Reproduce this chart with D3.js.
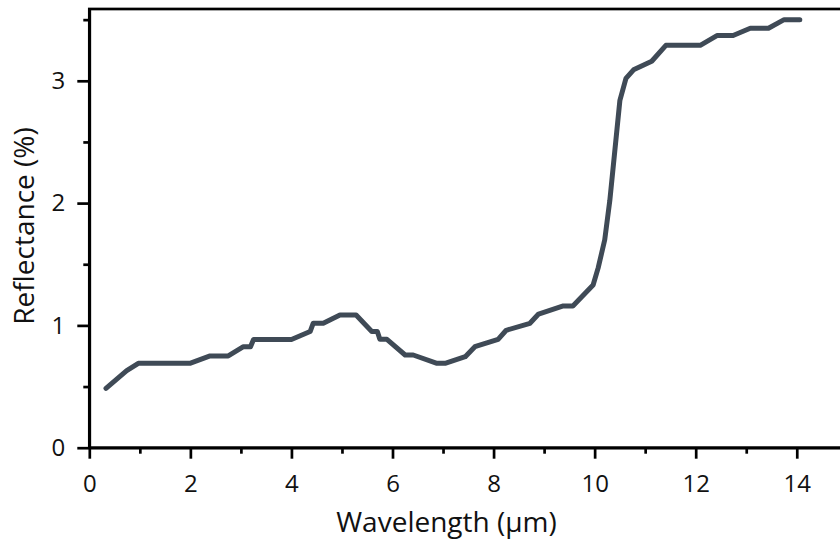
<!DOCTYPE html>
<html>
<head>
<meta charset="utf-8">
<script src="https://cdn.jsdelivr.net/npm/d3@7"></script>
<style>
  html, body { margin: 0; padding: 0; background: #fff; }
  svg { display: block; }
  text { font-family: "Open Sans", "Noto Sans", sans-serif; fill: #111; }
</style>
</head>
<body>
<svg id="chart" width="840" height="545"></svg>
<script>
// Spectrum: wavelength (µm) and reflectance (%)
const wavelength = [0.33, 0.74, 0.97, 1.99, 2.39, 2.75, 3.05, 3.19, 3.25, 4.0,
  4.37, 4.43, 4.63, 4.96, 5.28, 5.59, 5.70, 5.75, 5.89, 6.25,
  6.41, 6.88, 7.04, 7.44, 7.63, 8.09, 8.25, 8.72, 8.89, 9.38,
  9.57, 9.97, 10.07, 10.2, 10.3, 10.5, 10.62, 10.77, 11.13, 11.41,
  12.09, 12.42, 12.74, 13.08, 13.44, 13.75, 14.06];
const reflectance = [0.485, 0.63, 0.69, 0.69, 0.75, 0.75, 0.826, 0.826, 0.885, 0.885,
  0.95, 1.017, 1.017, 1.085, 1.085, 0.95, 0.95, 0.886, 0.886, 0.758,
  0.758, 0.69, 0.69, 0.744, 0.826, 0.886, 0.96, 1.017, 1.093, 1.159,
  1.159, 1.33, 1.47, 1.70, 2.02, 2.84, 3.02, 3.09, 3.16, 3.29,
  3.29, 3.37, 3.37, 3.43, 3.43, 3.50, 3.50];

const xMajorTicks = [0, 2, 4, 6, 8, 10, 12, 14];
const xMinorTicks = [1, 3, 5, 7, 9, 11, 13, 15];
const yMajorTicks = [0, 1, 2, 3];
const yMinorTicks = [0.5, 1.5, 2.5, 3.5];
const xTitle = "Wavelength (µm)";
const yTitle = "Reflectance (%)";

const svg = d3.select("#chart");
const plotLeft = 89.3, plotRight = 847.3, plotTop = 9, plotBottom = 447.7;

const x = d3.scaleLinear().domain([0, 15]).range([plotLeft, plotRight]);
const y = d3.scaleLinear().domain([0, 3.587]).range([plotBottom, plotTop]);

const axisW = 2.7;

// Frame around the plot area
svg.append("rect")
  .attr("x", plotLeft).attr("y", plotTop)
  .attr("width", plotRight - plotLeft).attr("height", plotBottom - plotTop)
  .attr("fill", "none").attr("stroke", "#000").attr("stroke-width", axisW);

function styleAxis(g) {
  g.selectAll("path.domain").attr("stroke", "#000").attr("stroke-width", axisW);
  g.selectAll(".tick line").attr("stroke", "#000").attr("stroke-width", axisW);
  g.selectAll(".tick text").style("font-family", '"Open Sans", "Noto Sans", sans-serif')
    .style("font-size", "24px").attr("fill", "#111");
}

// x axis
svg.append("g").attr("transform", `translate(0,${plotBottom})`)
  .call(d3.axisBottom(x).tickValues(xMinorTicks).tickSize(6).tickSizeOuter(0).tickFormat(""))
  .call(styleAxis)
  .call(g => g.select("path.domain").remove());
svg.append("g").attr("transform", `translate(0,${plotBottom})`)
  .call(d3.axisBottom(x).tickValues(xMajorTicks).tickSize(11).tickPadding(16).tickSizeOuter(0).tickFormat(d3.format("d")))
  .call(styleAxis);

// y axis
svg.append("g").attr("transform", `translate(${plotLeft},0)`)
  .call(d3.axisLeft(y).tickValues(yMinorTicks).tickSize(6).tickSizeOuter(0).tickFormat(""))
  .call(styleAxis)
  .call(g => g.select("path.domain").remove());
svg.append("g").attr("transform", `translate(${plotLeft},0)`)
  .call(d3.axisLeft(y).tickValues(yMajorTicks).tickSize(12).tickPadding(12).tickSizeOuter(0).tickFormat(d3.format("d")))
  .call(styleAxis);

// Spectrum line
const pts = wavelength.map((w, i) => [w, reflectance[i]]);
svg.append("path")
  .datum(pts)
  .attr("fill", "none")
  .attr("stroke", "#3f4a56")
  .attr("stroke-width", 5)
  .attr("stroke-linejoin", "round")
  .attr("stroke-linecap", "round")
  .attr("d", d3.line().x(d => x(d[0])).y(d => y(d[1])));

// Axis titles
svg.append("text")
  .attr("x", 446.5).attr("y", 531.5)
  .attr("text-anchor", "middle")
  .style("font-size", "28px")
  .text(xTitle);

svg.append("text")
  .attr("transform", `translate(34,226) rotate(-90)`)
  .attr("text-anchor", "middle")
  .style("font-size", "28px")
  .text(yTitle);
</script>
</body>
</html>
